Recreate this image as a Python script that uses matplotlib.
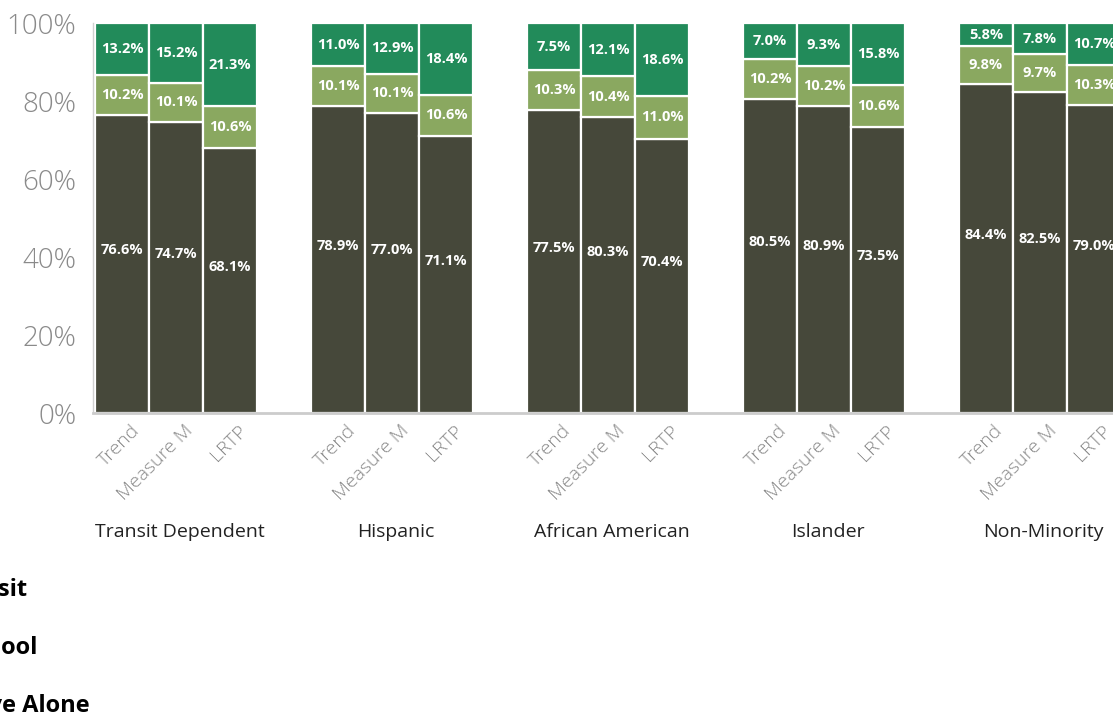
import matplotlib
matplotlib.use("Agg")
import matplotlib.pyplot as plt
import matplotlib.transforms as mtransforms
import numpy as np

plt.rcParams["font.family"] = ["Open Sans", "DejaVu Sans"]

# ---- data ----
groups = ["Transit Dependent", "Hispanic", "African American", "Islander", "Non-Minority"]
scenarios = ["Trend", "Measure M", "LRTP"]

# segment heights (share of trips, %), one entry per bar, group by group
drive_alone = [76.6, 74.7, 68.1, 78.9, 77.0, 71.1, 77.7, 75.9, 70.4, 80.7, 78.7, 73.5, 84.4, 82.5, 79.0]
carpool = [10.2, 10.1, 10.6, 10.1, 10.1, 10.6, 10.4, 10.5, 11.0, 10.2, 10.4, 10.6, 9.8, 9.7, 10.3]
transit = [13.2, 15.2, 21.3, 11.0, 12.9, 18.3, 11.9, 13.6, 18.6, 9.1, 10.9, 15.9, 5.8, 7.8, 10.7]

# printed labels (as shown on the chart)
drive_labels = ["76.6%", "74.7%", "68.1%", "78.9%", "77.0%", "71.1%", "77.5%", "80.3%", "70.4%",
                "80.5%", "80.9%", "73.5%", "84.4%", "82.5%", "79.0%"]
carpool_labels = ["10.2%", "10.1%", "10.6%", "10.1%", "10.1%", "10.6%", "10.3%", "10.4%", "11.0%",
                  "10.2%", "10.2%", "10.6%", "9.8%", "9.7%", "10.3%"]
transit_labels = ["13.2%", "15.2%", "21.3%", "11.0%", "12.9%", "18.4%", "7.5%", "12.1%", "18.6%",
                  "7.0%", "9.3%", "15.8%", "5.8%", "7.8%", "10.7%"]

legend_labels = ["Transit", "Carpool", "Drive Alone"]
yticks = [0, 20, 40, 60, 80, 100]

C_DRIVE = "#46483a"
C_CARPOOL = "#8aa860"
C_TRANSIT = "#228b5a"

W, H = 1113, 727
fig = plt.figure(figsize=(W / 100, H / 100), dpi=100)
ax = fig.add_axes([93 / W, (H - 413.3) / H, 1 - 93 / W, 390 / H])

pos = np.array([4 * g + j for g in range(len(groups)) for j in range(len(scenarios))], dtype=float)
drive = np.array(drive_alone)
car = np.array(carpool)
tra = np.array(transit)

kw = dict(width=1.0, edgecolor="white", linewidth=1.6, zorder=2)
ax.bar(pos, drive, color=C_DRIVE, **kw)
ax.bar(pos, car, bottom=drive, color=C_CARPOOL, **kw)
ax.bar(pos, tra, bottom=drive + car, color=C_TRANSIT, **kw)

lab = dict(ha="center", va="center", color="white", fontsize=10.5, fontweight="bold", zorder=3)
for i, x in enumerate(pos):
    ax.text(x, drive[i] / 2 + 3.5, drive_labels[i], **lab)
    ax.text(x, drive[i] + car[i] / 2, carpool_labels[i], **lab)
    ax.text(x, drive[i] + car[i] + tra[i] / 2, transit_labels[i], **lab)

ax.set_xlim(-0.54, (W - 122) / 54)
ax.set_ylim(0, 100)
ax.set_yticks(yticks, [f"{v}%" for v in yticks], fontsize=20, color="#8a8a8a",
              fontweight="light")
ax.set_xticks(pos, scenarios * len(groups), rotation=45, ha="right",
              rotation_mode="anchor", fontsize=14, color="#8a8a8a", fontweight="light")
ax.tick_params(length=0)
ax.tick_params(axis="y", pad=12)
ax.tick_params(axis="x", pad=6)
for lbl in ax.get_xticklabels():
    lbl.set_transform(lbl.get_transform() + mtransforms.ScaledTranslation(0.08, 0, fig.dpi_scale_trans))

for s in ["top", "right"]:
    ax.spines[s].set_visible(False)
ax.spines["left"].set_color("#d0d0d0")
ax.spines["left"].set_linewidth(1.0)
ax.spines["bottom"].set_color("#cccccc")
ax.spines["bottom"].set_linewidth(2.0)

trans = mtransforms.blended_transform_factory(ax.transData, ax.transAxes)
for g, name in enumerate(groups):
    ax.text(4 * g + 1.07, -0.305, name, transform=trans, ha="center", va="center",
            fontsize=14, color="#222222")

# legend (cut off at the left edge of the picture, as in the reference)
for label, xr, yc in zip(legend_labels, [28, 38, 90], [590, 648, 706]):
    fig.text(xr / W, 1 - yc / H, label, ha="right", va="center", fontsize=17,
             fontweight="bold", color="black")

fig.savefig("out.png", dpi=100)
